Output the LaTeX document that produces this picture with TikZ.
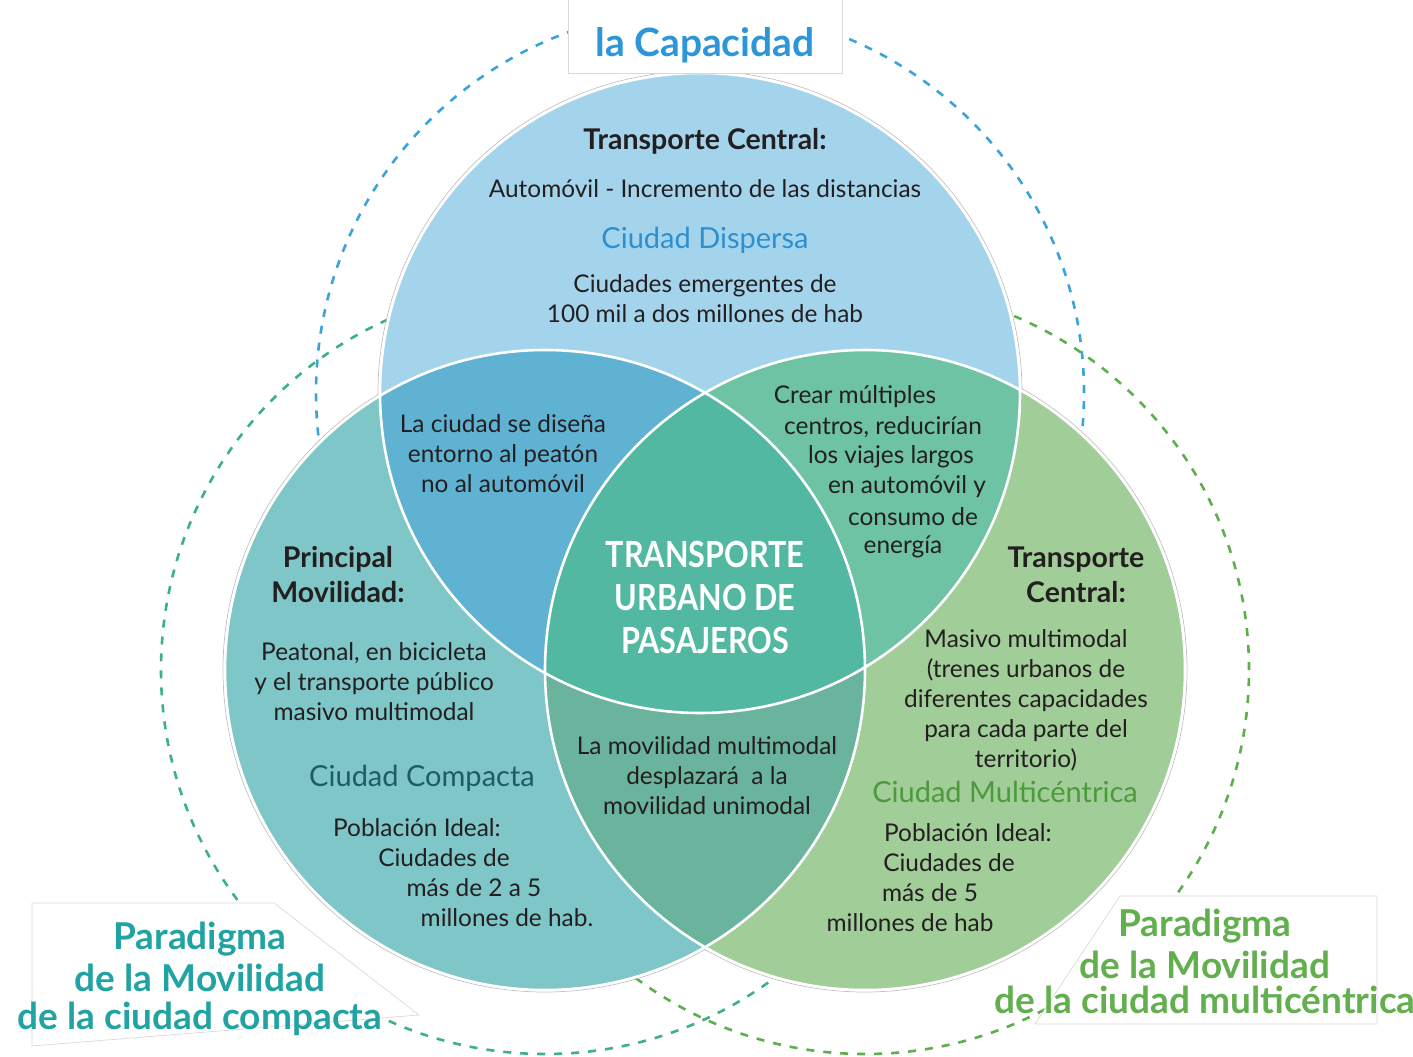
\documentclass[tikz,border=0pt]{standalone}
\usepackage{fontspec}
\setmainfont{Lato}
\newfontfamily\titlefont[FakeStretch=0.85]{Lato}
\usepackage{tikz}
\usetikzlibrary{positioning}
\definecolor{InkDark}{RGB}{35, 31, 32}
\definecolor{TopBlue}{RGB}{164, 212, 236}
\definecolor{LeftTeal}{RGB}{126, 198, 199}
\definecolor{RightGreen}{RGB}{161, 205, 152}
\definecolor{TopLeftBlue}{RGB}{96, 178, 211}
\definecolor{TopRightMint}{RGB}{109, 195, 163}
\definecolor{LowSea}{RGB}{106, 179, 157}
\definecolor{CoreTeal}{RGB}{83, 184, 161}
\definecolor{RingBlue}{RGB}{59, 163, 220}
\definecolor{RingTeal}{RGB}{59, 176, 138}
\definecolor{RingGreen}{RGB}{92, 175, 74}
\definecolor{CapBlue}{RGB}{44, 150, 216}
\definecolor{DisperseBlue}{RGB}{45, 143, 208}
\definecolor{CompactInk}{RGB}{30, 93, 99}
\definecolor{MultiGreen}{RGB}{75, 155, 59}
\definecolor{ParaTeal}{RGB}{34, 163, 163}
\definecolor{ParaGreen}{RGB}{98, 175, 78}
\tikzset{
  txt/.style={font=\fontsize{24.4}{30}\selectfont, text=InkDark,
    align=center, inner sep=0pt},
  hd/.style={font=\fontsize{28.5}{35}\selectfont\bfseries, text=InkDark,
    align=center, inner sep=0pt},
  city/.style={font=\fontsize{29}{30}\selectfont, inner sep=0pt},
  para/.style={font=\fontsize{37}{42}\selectfont\bfseries, align=center,
    inner sep=0pt},
  ring/.style={line width=2.6pt, dash pattern=on 8pt off 9pt},
  rim/.style={draw=white, line width=2.6pt},
  halo/.style={draw=black!25, line width=0.7pt},
  callout/.style={fill=white, draw=black!15, line width=0.7pt},
}

\begin{document}
\begin{tikzpicture}[x=1pt, y=-1pt]
  \useasboundingbox (0,0) rectangle (1413,1057);
  \coordinate (cT) at (700,393);
  \coordinate (cL) at (545,670);
  \coordinate (cR) at (865,670);

  % dashed paradigm rings
  \draw[ring, RingBlue] (cT) circle[radius=384pt];
  \draw[ring, RingTeal] (cL) circle[radius=384pt];
  \draw[ring, RingGreen] (cR) circle[radius=384pt];

  \draw[halo] (cT) circle[radius=322pt];
  \draw[halo] (cL) circle[radius=322pt];
  \draw[halo] (cR) circle[radius=322pt];

  \fill[TopBlue] (cT) circle[radius=320pt];
  \fill[LeftTeal] (cL) circle[radius=320pt];
  \fill[RightGreen] (cR) circle[radius=320pt];
  \begin{scope}
    \clip (cT) circle[radius=320pt];
    \fill[TopLeftBlue] (cL) circle[radius=320pt];
    \fill[TopRightMint] (cR) circle[radius=320pt];
    \clip (cL) circle[radius=320pt];
    \fill[CoreTeal] (cR) circle[radius=320pt];
  \end{scope}
  \begin{scope}
    \clip (cL) circle[radius=320pt];
    \clip (cR) circle[radius=320pt];
    \fill[LowSea] (cL) circle[radius=330pt];
    \fill[CoreTeal] (cT) circle[radius=320pt];
  \end{scope}
  \draw[rim] (cT) circle[radius=320pt];
  \draw[rim] (cL) circle[radius=320pt];
  \draw[rim] (cR) circle[radius=320pt];

  % callouts
  \filldraw[callout] (568,-20) rectangle (842,73);
  \filldraw[callout] (32,903) -- (274,903) -- (419,1015) -- (32,1046) -- cycle;
  \filldraw[callout] (1120,896) -- (1377,896) -- (1377,1024) -- (1035,1024) -- cycle;
  \node[font=\fontsize{39}{40}\selectfont\bfseries, text=CapBlue] (cap) at (705,45)
    {la Capacidad};
  \node[para, text=ParaTeal] (paraL) at (200,979)
    {Paradigma\\de la Movilidad\\[-4pt]de la ciudad compacta};
  \node[para, text=ParaGreen] (paraR) at (1205,961)
    {Paradigma\\de la Movilidad\\[-7pt]de la ciudad multicéntrica};

  % top circle
  \node[hd] (tc) at (705,141) {Transporte Central:};
  \node[txt] (tcar) at (705,189) {Automóvil - Incremento de las distancias};
  \node[city, text=DisperseBlue] (tdis) at (705,240) {Ciudad Dispersa};
  \node[txt] (tpop) at (705,299) {Ciudades emergentes de\\100 mil a dos millones de hab};

  % lenses
  \node[txt] (lensTL) at (503,454) {La ciudad se diseña\\entorno al peatón\\no al automóvil};
  \foreach \t/\x [count=\i] in {Crear múltiples/855, {centros, reducirían}/883,
      los viajes largos/891, en automóvil y/907, consumo de/913, energía/903}
    \node[txt] (lensTR\i) at (\x,367+30*\i) {\t};
  \node[txt] (lensB) at (707,776) {La movilidad multimodal\\desplazará\ \ a la\\movilidad unimodal};

  % left circle
  \node[hd] (lhd) at (338,575) {Principal\\Movilidad:};
  \node[txt] (lmov) at (374,682) {Peatonal, en bicicleta\\y el transporte público\\masivo multimodal};
  \node[city, text=CompactInk] (lcity) at (422,778) {Ciudad Compacta};
  \foreach \t/\x [count=\i] in {Población Ideal:/417, Ciudades de/444,
      más de 2 a 5/474, millones de hab./507}
    \node[txt] (lpop\i) at (\x,798+30*\i) {\t};

  % right circle
  \node[hd] (rhd) at (1076,575) {Transporte\\Central:};
  \node[txt] (rmov) at (1026,700) {Masivo multimodal\\(trenes urbanos de\\diferentes capacidades\\para cada parte del\\territorio)};
  \node[city, text=MultiGreen] (rcity) at (1005,792) {Ciudad Multicéntrica};
  \foreach \t/\x [count=\i] in {Población Ideal:/968, Ciudades de/949,
      más de 5/930, millones de hab/910}
    \node[txt] (rpop\i) at (\x,803+30*\i) {\t};

  % core title
  \node[font=\titlefont\fontsize{36}{43}\selectfont\bfseries, align=center,
        text=white, inner sep=0pt] (ttl) at (705,597)
    {TRANSPORTE\\URBANO DE\\PASAJEROS};
\end{tikzpicture}
\end{document}
